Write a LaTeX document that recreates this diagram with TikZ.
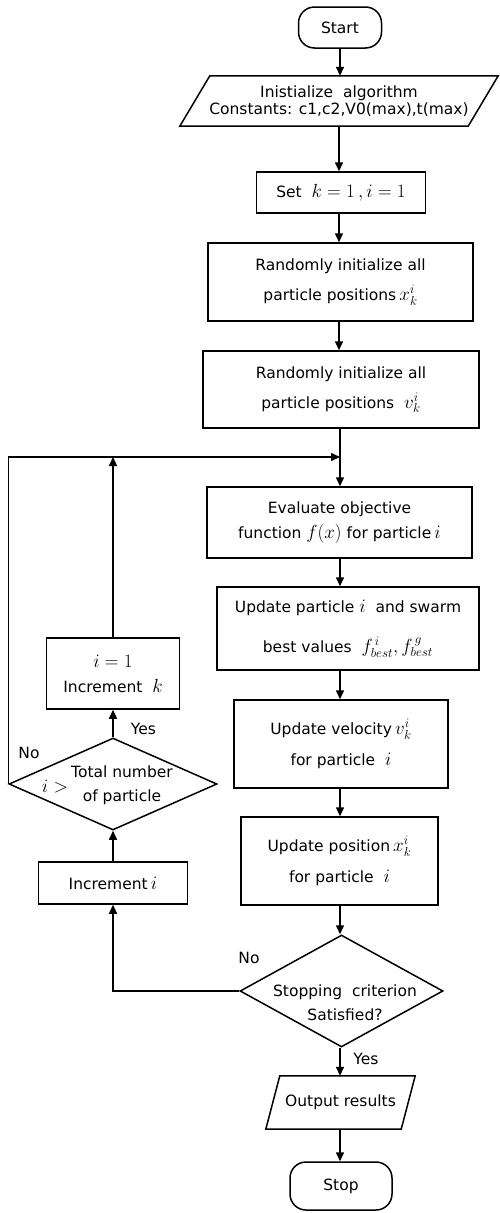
\RequirePackage{fix-cm}
\documentclass[tikz,border=0pt]{standalone}
\usepackage[no-math]{fontspec}
\setmainfont{DejaVu Sans}
\DeclareMathSizes{15.5}{19}{13}{10}
\usetikzlibrary{arrows.meta,shapes.geometric}
\newcommand{\fs}[1]{\fontsize{15.5}{#1}\selectfont}
\begin{document}
\begin{tikzpicture}[x=1pt,y=-1pt,
  box/.style={draw, line width=1.5pt, inner sep=0pt, align=center, font=\fs{18}},
  term/.style={box, rounded corners=16pt},
  plain/.style={inner sep=0pt, align=center, font=\fs{18}},
  dia/.style={draw, diamond, line width=1.5pt, inner sep=0pt},
  arr/.style={-{Triangle[length=9pt,width=8pt]}, line width=1.5pt},
  line/.style={line width=1.5pt}]
\useasboundingbox (0,0) rectangle (500,1213);

% main column
\node[term, minimum width=83pt, minimum height=41pt] (start) at (340,27.5) {Start};
\node[plain, minimum width=288pt, minimum height=50pt, font=\fs{17}] (init) at (339,101)
  {Inistialize~~algorithm\\Constants: c1,c2,V0(max),t(max)};
\draw[line] ([xshift=-15pt]init.south west) -- ([xshift=-15pt]init.south east)
  -- ([xshift=15pt]init.north east) -- ([xshift=15pt]init.north west) -- cycle;
\node[box, minimum width=169pt, minimum height=41pt] (set) at (341,192.5) {Set~~$k=1\,,i=1$};
\node[box, minimum width=265pt, minimum height=78pt, font=\fs{30}] (rand1) at (340.5,282)
  {Randomly initialize all\\particle positions$\,x_k^i$};
\node[box, minimum width=276pt, minimum height=77pt, font=\fs{30}] (rand2) at (341,389.5)
  {Randomly initialize all\\particle positions~~$v_k^i$};
\coordinate (merge) at (340,457);
\node[box, minimum width=265pt, minimum height=71pt, font=\fs{25}] (eval) at (339.5,522.5)
  {Evaluate objective\\function $f(x)$ for particle$\,i$};
\node[box, minimum width=262pt, minimum height=83pt, font=\fs{40}] (upd) at (348,628.5)
  {Update particle~$i$~~and swarm\\best values~~$f^{\,i}_{best}, f^{\,g}_{best}$};
\node[box, minimum width=214pt, minimum height=88pt, font=\fs{31}] (vel) at (341,744)
  {Update velocity$\,v_k^i$\\for particle~~$i$};
\node[box, minimum width=197pt, minimum height=88pt, font=\fs{31}] (pos) at (339.5,861)
  {Update position$\,x_k^i$\\for particle~~$i$};
\node[dia, minimum width=203pt, minimum height=112pt] (stopd) at (341.5,991) {};
\node[plain, font=\fs{24}] (stoptxt) at (345,1003) {Stopping~~criterion\\Satisfied?};
\node[plain, minimum width=135pt, minimum height=53pt] (out) at (340.5,1102.5) {Output results};
\draw[line] ([xshift=-7pt]out.south west) -- ([xshift=-7pt]out.south east)
  -- ([xshift=7pt]out.north east) -- ([xshift=7pt]out.north west) -- cycle;
\node[term, minimum width=102pt, minimum height=48pt] (stop) at (341,1186) {Stop};

% left column
\node[box, minimum width=133pt, minimum height=71pt, font=\fs{25}] (i1) at (113,673.5)
  {$i=1$\\Increment~~$k$};
\node[dia, minimum width=208pt, minimum height=92pt] (d1) at (113,784) {};
\node[plain, font=\fs{24}] (d1txt) at (122,785) {Total number\\of particle};
\node[plain] (d1i) at (55,787) {$i>$};
\node[box, minimum width=149pt, minimum height=42pt] (inci) at (113,883) {Increment$\,i$};

% labels
\node[plain] (yes1) at (143.5,729) {Yes};
\node[plain] (no1) at (29,753) {No};
\node[plain] (no2) at (249,958) {No};
\node[plain] (yes2) at (366,1059) {Yes};

% connectors main
\draw[arr] (start.south) -- (start.south |- init.north);
\draw[arr] (init.south) -- (init.south |- set.north);
\draw[arr] (set.south -| init.south) -- (init.south |- rand1.north);
\draw[arr] (rand1.south -| init.south) -- (init.south |- rand2.north);
\draw[arr] (rand2.south -| merge) -- (merge |- eval.north);
\draw[arr] (eval.south -| merge) -- (merge |- upd.north);
\draw[arr] (upd.south -| merge) -- (merge |- vel.north);
\draw[arr] (vel.south -| merge) -- (merge |- pos.north);
\draw[arr] (pos.south -| merge) -- (merge |- stopd.north);
\draw[arr] (stopd.south -| merge) -- (merge |- out.north);
\draw[arr] (out.south -| merge) -- (merge |- stop.north);

% loops
\draw[arr] (stopd.west) -- (stopd.west -| inci.south) -- (inci.south);
\draw[arr] (inci.north) -- (d1.south);
\draw[arr] (d1.north) -- (i1.south);
\draw[arr] (i1.north) -- (i1.north |- merge);
\draw[arr] (d1.west) -- (d1.west |- merge) -- (merge);
\end{tikzpicture}
\end{document}
